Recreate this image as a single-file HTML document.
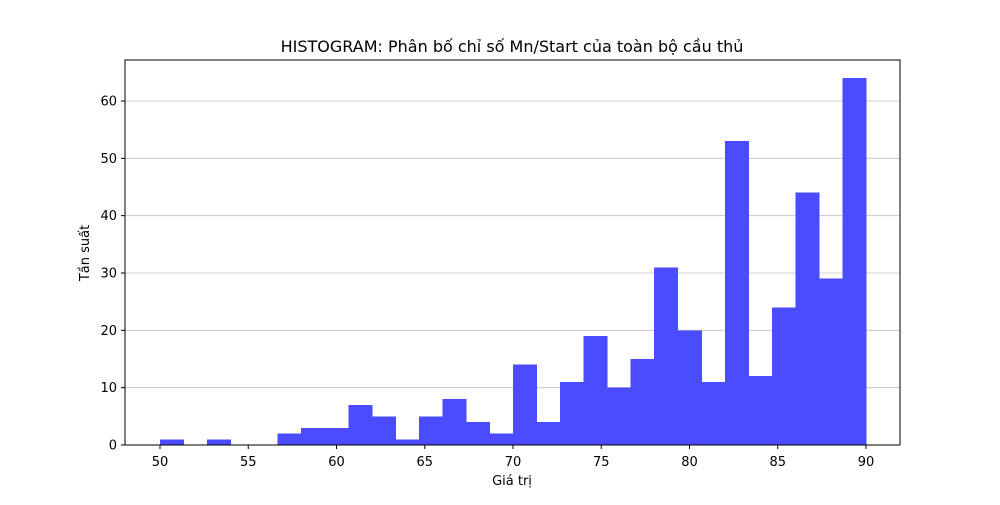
<!DOCTYPE html>
<html><head><meta charset="utf-8"><style>
html,body{margin:0;padding:0;background:#fff;}
svg text{font-family:"DejaVu Sans","Liberation Sans",sans-serif;}
</style></head><body>
<svg id="chart" width="1000" height="500" xmlns="http://www.w3.org/2000/svg">
<rect width="1000" height="500" fill="#fff"/>
<text x="512" y="52" text-anchor="middle" font-size="16">HISTOGRAM: Phân bố chỉ số Mn/Start của toàn bộ cầu thủ</text>
<g id="grid"></g>
<g id="bars" shape-rendering="crispEdges"></g>
<rect x="125" y="60" width="775" height="385" fill="none" stroke="#000" stroke-width="1"/>
<g id="xaxis"></g>
<g id="yaxis"></g>
<text x="512" y="485" text-anchor="middle" font-size="13">Giá trị</text>
<text transform="translate(89,253) rotate(-90)" text-anchor="middle" font-size="13">Tần suất</text>
</svg>
<script>
const binStart = 50;
const binEnd = 90;
const counts = [1,0,1,0,0,2,3,3,7,5,1,5,8,4,2,14,4,11,19,10,15,31,20,11,53,12,24,44,29,64];
const xTicks = [50,55,60,65,70,75,80,85,90];
const yTicks = [0,10,20,30,40,50,60];

const NS = "http://www.w3.org/2000/svg";
function xs(v){ return 160 + (v - 50) * (706 / 40); }
function ys(v){ return 445 - v * (344 / 60); }
function mk(tag, attrs, parent){
  const e = document.createElementNS(NS, tag);
  for (const k in attrs) e.setAttribute(k, attrs[k]);
  parent.appendChild(e);
  return e;
}
const grid = document.getElementById('grid');
const bars = document.getElementById('bars');
const xa = document.getElementById('xaxis');
const ya = document.getElementById('yaxis');
const w = (binEnd - binStart) / counts.length;

yTicks.forEach(t => {
  const y = ys(t);
  const gl = mk('line', {x1:125, x2:900, y1:y, y2:y, stroke:'#c0c0c0', 'stroke-width':0.8}, grid);
  
  
  const tk = mk('line', {x1:121, x2:125, y1:y, y2:y, stroke:'#000'}, ya);
  
  
  const tx = mk('text', {x:117, y:y + 4.5, 'text-anchor':'end', 'font-size':13}, ya);
  tx.textContent = t;
  
  
});
xTicks.forEach(t => {
  const x = xs(t);
  const tk = mk('line', {x1:x, x2:x, y1:445, y2:449, stroke:'#000'}, xa);
  
  
  const tx = mk('text', {x:x, y:466, 'text-anchor':'middle', 'font-size':13}, xa);
  tx.textContent = t;
  
  
});
counts.forEach((c, i) => {
  if (c <= 0) return;
  const x0 = xs(binStart + i * w), x1 = xs(binStart + (i + 1) * w);
  const r = mk('rect', {x:x0, y:ys(c), width:x1 - x0 + 0.5, height:ys(0) - ys(c), fill:'rgb(75,75,255)'}, bars);
  
  
});
</script>
</body></html>
